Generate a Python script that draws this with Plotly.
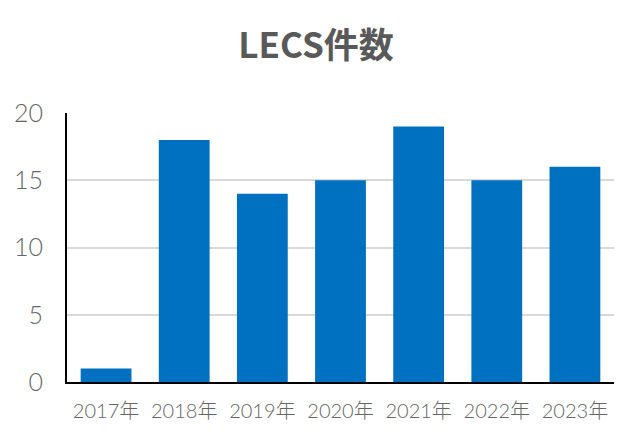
import plotly.graph_objects as go

categories = ["2017年", "2018年", "2019年", "2020年", "2021年", "2022年", "2023年"]
values = [1, 18, 14, 15, 19, 15, 16]
y_ticks = [0, 5, 10, 15, 20]

fig = go.Figure(go.Bar(x=categories, y=values, marker_color="#0070C0", marker_line_width=0))

fig.update_layout(
    width=624, height=432,
    margin=dict(l=59, r=18, t=105, b=58, autoexpand=False),
    paper_bgcolor="white", plot_bgcolor="white",
    bargap=0.35,
    showlegend=False,
    title=dict(text="<b>LECS件数</b>", x=308 / 624, xanchor="center", xref="container",
               y=1 - 38 / 432, yref="container", yanchor="middle",
               font=dict(family="Noto Sans CJK JP", size=35, color="#595959")),
    font=dict(family="Lato, Noto Sans CJK JP", color="#595959"),
)
fig.update_xaxes(
    automargin=False,
    showline=True, linecolor="black", linewidth=2,
    tickfont=dict(size=20, color="#666666", family="Lato, Noto Sans CJK JP", weight=300),
    ticklabelstandoff=10, showgrid=False,
)
fig.update_yaxes(
    automargin=False,
    range=[0, 20], tickvals=y_ticks,
    showline=True, linecolor="black", linewidth=2,
    showgrid=True, gridcolor="#d9d9d9", gridwidth=1.5,
    zeroline=False,
    tickfont=dict(size=25, color="#666666", family="Lato, Noto Sans CJK JP", weight=300),
    ticklabelstandoff=17,
)
fig.write_html("out.html")
